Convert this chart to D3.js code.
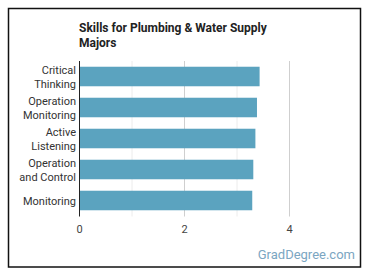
<!DOCTYPE html>
<html>
<head>
<meta charset="utf-8">
<script src="https://cdn.jsdelivr.net/npm/d3@7"></script>
<style>
  html, body { margin: 0; padding: 0; background: #fff; }
  svg { display: block; font-family: Roboto, "Noto Sans", sans-serif; }
</style>
</head>
<body>
<div id="chart"></div>
<script>
// Daten
const skills = [["Critical", "Thinking"], ["Operation", "Monitoring"], ["Active", "Listening"], ["Operation", "and Control"], ["Monitoring"]];
const values = [3.44, 3.39, 3.36, 3.32, 3.30];
const ticks = [0, 2, 4];
const gridMinor = [1, 3];

const W = 370, H = 278;
const M = { top: 61, right: 81, bottom: 62, left: 79 };

const svg = d3.select("#chart").append("svg")
  .attr("width", W)
  .attr("height", H);

// Rahmen
svg.append("rect")
  .attr("x", 8.5).attr("y", 8.5)
  .attr("width", 352).attr("height", 258.5)
  .attr("fill", "none")
  .attr("stroke", "#111")
  .attr("stroke-width", 1.5);

// Titel
const title = svg.append("text")
  .attr("x", 79).attr("y", 32)
  .style("font-size", "12px")
  .style("font-weight", "700")
  .style("fill", "#222");
title.append("tspan").attr("x", 79).attr("dy", 0).text("Skills for Plumbing & Water Supply");
title.append("tspan").attr("x", 79).attr("dy", 14.5).text("Majors");

// Skalen
const x = d3.scaleLinear().domain([0, 4]).range([M.left, W - M.right]);
const y = d3.scaleBand()
  .domain(d3.range(skills.length))
  .range([M.top, H - M.bottom])
  .paddingInner(0.37)
  .paddingOuter(0.185);

const plotTop = M.top, plotBottom = H - M.bottom + 0.5;

// Gitter
svg.append("g").selectAll("line")
  .data(gridMinor)
  .join("line")
  .attr("x1", d => x(d) + 0.5).attr("x2", d => x(d) + 0.5)
  .attr("y1", plotTop).attr("y2", plotBottom)
  .attr("stroke", "#ececec");

svg.append("g").selectAll("line")
  .data(ticks.slice(1))
  .join("line")
  .attr("x1", d => x(d) + 0.5).attr("x2", d => x(d) + 0.5)
  .attr("y1", plotTop).attr("y2", plotBottom)
  .attr("stroke", "#cfcfcf");

// Balken
svg.append("g").selectAll("rect")
  .data(values)
  .join("rect")
  .attr("x", x(0))
  .attr("y", (d, i) => y(i))
  .attr("width", d => x(d) - x(0))
  .attr("height", y.bandwidth())
  .attr("fill", "#5ba3bf");

// y-Achse
svg.append("line")
  .attr("x1", x(0) + 0.5).attr("x2", x(0) + 0.5)
  .attr("y1", plotTop).attr("y2", plotBottom)
  .attr("stroke", "#222");

// x-Achse
const gx = svg.append("g")
  .attr("transform", `translate(0,${plotBottom})`)
  .call(d3.axisBottom(x).tickValues(ticks).tickSize(0).tickPadding(9).tickFormat(d3.format("d")));
gx.select(".domain").remove();
gx.selectAll(".tick text")
  .style("font-size", "11px")
  .style("font-family", "Roboto, sans-serif")
  .style("fill", "#444");

// Kategorien
const labels = svg.append("g").selectAll("text")
  .data(skills)
  .join("text")
  .attr("text-anchor", "end")
  .style("font-size", "11px")
  .style("fill", "#333")
  .attr("transform", (d, i) => `translate(${x(0) - 3},${y(i) + y.bandwidth() / 2})`);

labels.each(function(d) {
  const t = d3.select(this);
  const off = -(d.length - 1) * 7 + 4;
  d.forEach((line, k) => {
    t.append("tspan").attr("x", 0).attr("y", off + k * 14).text(line);
  });
});

// Wasserzeichen
svg.append("text")
  .attr("x", 355).attr("y", 259)
  .attr("text-anchor", "end")
  .style("font-size", "13px")
  .style("fill", "#7ba6c2")
  .text("GradDegree.com");
</script>
</body>
</html>
